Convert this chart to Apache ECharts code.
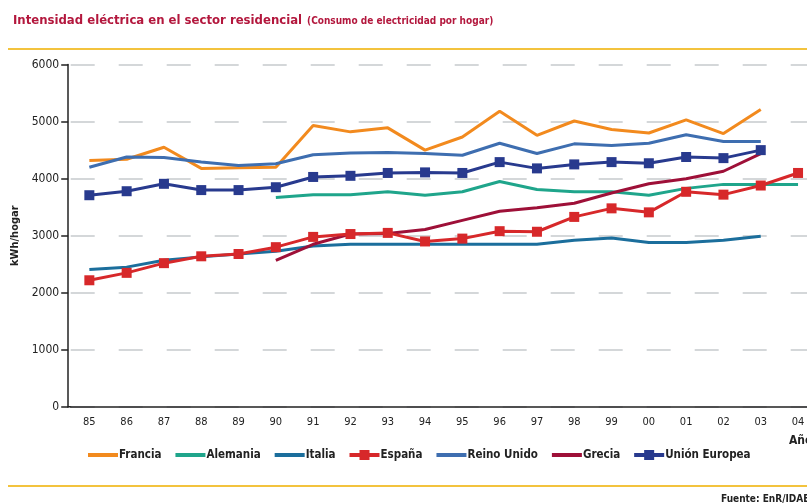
<!DOCTYPE html>
<html>
<head>
<meta charset="utf-8">
<script src="https://cdn.jsdelivr.net/npm/echarts@6/dist/echarts.min.js"></script>
<style>
  html, body { margin: 0; padding: 0; background: #fff; }
  #chart { width: 807px; height: 503px; }
</style>
</head>
<body>
<div id="chart"></div>
<script>
// años (eje x)
var years = ['85','86','87','88','89','90','91','92','93','94','95','96','97','98','99','00','01','02','03','04'];

// consumo kWh/hogar
var francia     = [4320,4340,4550,4180,4190,4200,4930,4820,4890,4500,4730,5180,4760,5010,4860,4800,5030,4790,5210,null];
var alemania    = [null,null,null,null,null,3670,3720,3720,3770,3710,3770,3950,3810,3770,3770,3710,3830,3900,3900,3900];
var italia      = [2410,2450,2570,2630,2680,2730,2820,2850,2850,2850,2850,2850,2850,2920,2960,2880,2880,2920,2990,null];
var espana      = [2220,2350,2520,2640,2680,2800,2980,3030,3050,2900,2950,3080,3070,3330,3480,3410,3770,3720,3880,4100];
var reinoUnido  = [4200,4380,4370,4290,4230,4260,4420,4450,4460,4440,4410,4620,4440,4610,4580,4620,4770,4650,4650,null];
var grecia      = [null,null,null,null,null,2570,2850,3030,3040,3110,3270,3430,3490,3570,3750,3910,4000,4130,4440,null];
var unionEuropa = [3710,3780,3910,3800,3800,3850,4030,4050,4100,4110,4100,4290,4180,4250,4290,4270,4380,4360,4500,null];

var FONT = "'Liberation Sans Narrow', 'DejaVu Sans Condensed', 'Noto Sans', sans-serif";
// iconos de leyenda: línea sola / línea con cuadrado
var LINE_ICON = 'path://M0,3 L30,3 L30,7 L0,7 Z M0,0 L0,0 M30,10 L30,10';
var MARK_ICON = 'path://M0,3 L10,3 L10,0 L20,0 L20,3 L30,3 L30,7 L20,7 L20,10 L10,10 L10,7 L0,7 Z';

var myChart = echarts.init(document.getElementById('chart'));

function lineSerie(name, data, color, marker) {
    return {
        name: name,
        type: 'line',
        data: data,
        connectNulls: false,
        symbol: marker ? 'rect' : 'none',
        symbolSize: 10,
        showSymbol: !!marker,
        itemStyle: { color: color },
        lineStyle: { color: color, width: 3 },
        emphasis: { disabled: true },
        z: marker ? 4 : 2
    };
}

var option = {
    backgroundColor: '#fff',
    animation: false,
    title: {
        left: 8,
        top: 7,
        text: '{a|Intensidad eléctrica en el sector residencial} {b|(Consumo de electricidad por hogar)}',
        textStyle: {
            rich: {
                a: { fontFamily: FONT, fontWeight: 'bold', fontSize: 13, color: '#b3173d' },
                b: { fontFamily: FONT, fontWeight: 'bold', fontSize: 10, color: '#b3173d' }
            }
        }
    },
    legend: {
        left: 83,
        top: 444,
        itemWidth: 30,
        itemHeight: 10,
        itemGap: 14,
        data: [
            { name: 'Francia', icon: LINE_ICON },
            { name: 'Alemania', icon: LINE_ICON },
            { name: 'Italia', icon: LINE_ICON },
            { name: 'España', icon: MARK_ICON },
            { name: 'Reino Unido', icon: LINE_ICON },
            { name: 'Grecia', icon: LINE_ICON },
            { name: 'Unión Europea', icon: MARK_ICON }
        ],
        textStyle: { fontFamily: FONT, fontWeight: 'bold', fontSize: 11.5, color: '#222', padding: [0,0,0,-4] }
    },
    grid: {
        left: 70.7,
        top: 64.5,
        bottom: 96,
        width: 746,
        outerBoundsMode: 'none',
        containLabel: false
    },
    xAxis: {
        type: 'category',
        data: years,
        boundaryGap: true,
        axisLine: { lineStyle: { color: '#222', width: 1.5 } },
        axisTick: { alignWithLabel: true, length: 6, lineStyle: { color: '#222', width: 1.5 } },
        axisLabel: { fontFamily: FONT, fontSize: 11, color: '#222', margin: 10 },
        splitLine: { show: false }
    },
    yAxis: {
        type: 'value',
        min: 0,
        max: 6000,
        interval: 1000,
        offset: 2.5,
        name: 'kWh/hogar',
        nameLocation: 'middle',
        nameRotate: 90,
        nameGap: 44,
        nameTextStyle: { fontFamily: FONT, fontWeight: 'bold', fontSize: 11, color: '#222' },
        axisLine: { show: true, lineStyle: { color: '#222', width: 1.5 } },
        axisTick: { show: true, length: 7, lineStyle: { color: '#222', width: 1.5 } },
        axisLabel: {
            fontFamily: FONT, fontSize: 12, color: '#222', margin: 9,
            formatter: function (v) { return String(v); }
        },
        splitLine: {
            show: true,
            lineStyle: { color: '#c6cacd', width: 1.5, type: [24, 24], dashOffset: 0 }
        }
    },
    graphic: [
        { type: 'rect', left: 8, top: 48, shape: { width: 799, height: 2 }, style: { fill: '#f3c33d' }, silent: true },
        { type: 'rect', left: 8, top: 485, shape: { width: 799, height: 2 }, style: { fill: '#f3c33d' }, silent: true },
        { type: 'rect', left: 67.5, top: 406, shape: { width: 4, height: 1.5 }, style: { fill: '#222' }, silent: true },
        { type: 'text', left: 789, top: 435, style: { text: 'Años', font: 'bold 12px ' + FONT, fill: '#222' }, silent: true },
        { type: 'text', left: 721, top: 494, style: { text: 'Fuente: EnR/IDAE', font: 'bold 10px ' + FONT, fill: '#222' }, silent: true }
    ],
    series: [
        lineSerie('Francia', francia, '#f28a1e', false),
        lineSerie('Alemania', alemania, '#1fa58b', false),
        lineSerie('Italia', italia, '#1b6e9c', false),
        lineSerie('España', espana, '#d7282a', true),
        lineSerie('Reino Unido', reinoUnido, '#3e6eb0', false),
        lineSerie('Grecia', grecia, '#9e1038', false),
        lineSerie('Unión Europea', unionEuropa, '#283a8e', true)
    ]
};

myChart.setOption(option);
</script>
</body>
</html>
